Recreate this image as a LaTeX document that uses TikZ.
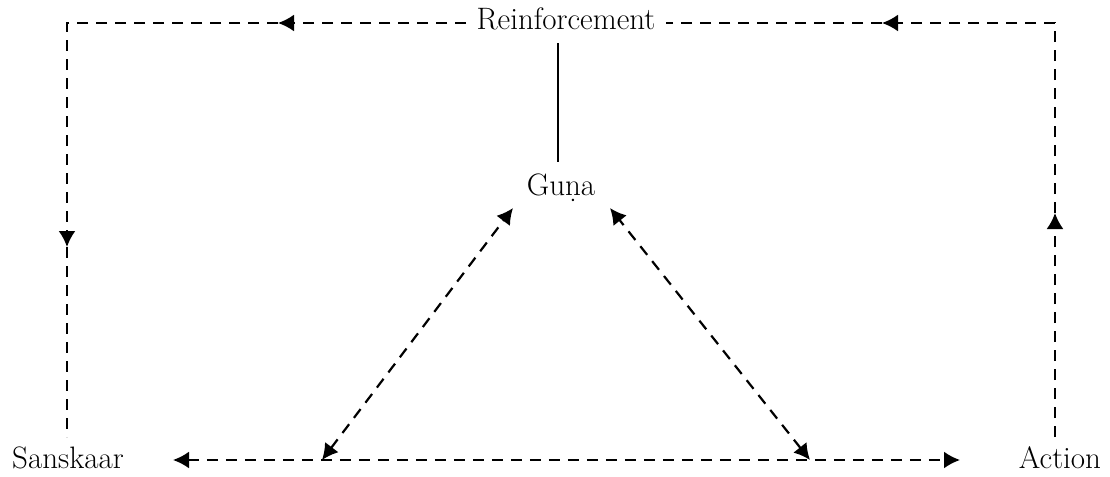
\documentclass[tikz,border=0pt]{standalone}
\usetikzlibrary{arrows.meta}
\begin{document}
\begin{tikzpicture}[x=0.5pt,y=-0.5pt,
  lbl/.style={font=\fontsize{15.5}{18}\selectfont, inner xsep=5pt, inner ysep=0pt, anchor=base},
  dline/.style={line width=1.1pt, dash pattern=on 5.5pt off 4pt},
  tipend/.style={-{Latex[length=8pt,width=8.5pt]}},
  tipboth/.style={{Latex[length=8pt,width=8.5pt]}-{Latex[length=8pt,width=8.5pt]}},
  sline/.style={line width=0.8pt}]
\useasboundingbox (0,0) rectangle (1110,477);
% nodes
\node[lbl] (reinf)  at (566,29)  {Reinforcement};
\node[lbl] (guna)   at (561,195) {Gu\d{n}a};
\node[lbl] (sansk)  at (68,468)  {Sanskaar};
\node[lbl] (action) at (1060,468) {Action};
% helper coordinates
\coordinate (tlc) at (67,23);
\coordinate (trc) at (1055,23);
\coordinate (la)  at (278,23);
\coordinate (ra)  at (882,23);
\coordinate (lv)  at (67,247);
\coordinate (rv)  at (1055,213);
\coordinate (lb)  at (67,437);
\coordinate (rb)  at (1055,437);
\coordinate (hl)  at (173,460);
\coordinate (hr)  at (960,460);
\coordinate (bl)  at (322,460);
\coordinate (br)  at (810,460);
\coordinate (gl)  at (513,208);
\coordinate (gr)  at (610,208);
% top-left loop
\draw[dline,tipend] (reinf.west |- tlc) -- (la);
\draw[dline,tipend] (la) -- (tlc) -- (lv);
\draw[dline] (lv) -- (lb);
% top-right loop
\draw[dline,tipend] (rb) -- (rv);
\draw[dline,tipend] (rv) -- (trc) -- (ra);
\draw[dline] (ra) -- (reinf.east |- trc);
% solid link
\draw[sline] (558,43) -- (558,162);
% bottom
\draw[dline,tipboth] (hl) -- (hr);
% triangle sides
\draw[dline,tipboth] (bl) -- (gl);
\draw[dline,tipboth] (br) -- (gr);
\end{tikzpicture}
\end{document}
